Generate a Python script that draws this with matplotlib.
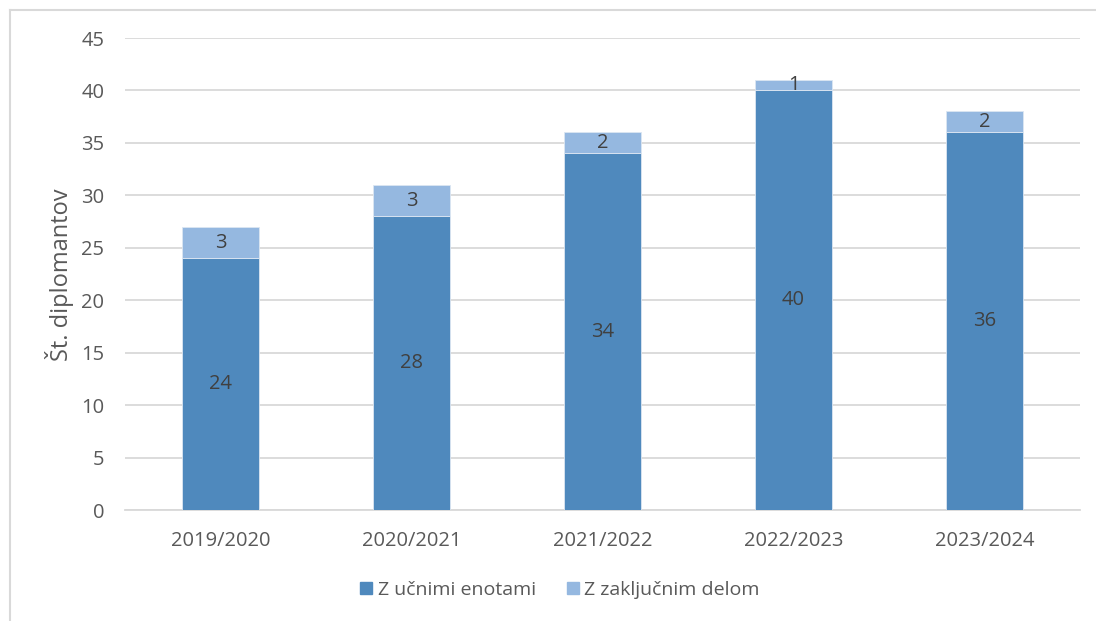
import numpy as np
import matplotlib
matplotlib.use("Agg")
import matplotlib.pyplot as plt
from matplotlib.lines import Line2D

# data
years = ["2019/2020", "2020/2021", "2021/2022", "2022/2023", "2023/2024"]
ucne_enote = [24, 28, 34, 40, 36]
zakljucni_del = [3, 3, 2, 1, 2]
series_names = ["Z učnimi enotami", "Z zaključnim delom"]

dark = "#4F89BD"
light = "#95B8E0"
text_col = "#595959"
label_col = "#404040"

plt.rcParams['font.family'] = ['Open Sans', 'DejaVu Sans']

fig = plt.figure(figsize=(10.96, 6.21), dpi=100)
ax = fig.add_axes([125 / 1096, 1 - 510 / 621, 955 / 1096, 472 / 621])

x = np.arange(len(years))
w = 0.40
b1 = ax.bar(x, ucne_enote, width=w, color=dark, edgecolor="#DCE6F2",
            linewidth=0.6, label=series_names[0], zorder=3)
b2 = ax.bar(x, zakljucni_del, width=w, bottom=ucne_enote, color=light,
            edgecolor="#DCE6F2", linewidth=0.6, label=series_names[1], zorder=3)

ax.bar_label(b1, labels=[str(v) for v in ucne_enote], label_type="center",
             color=label_col, fontsize=14.5)
ax.bar_label(b2, labels=[str(v) for v in zakljucni_del], label_type="center",
             color=label_col, fontsize=14.5)

ax.set_xlim(-0.5, len(years) - 0.5)
ax.set_ylim(0, 45)
ax.set_yticks(np.arange(0, 46, 5))
ax.set_xticks(x)
ax.set_xticklabels(years)
ax.tick_params(axis="both", length=0, colors=text_col, labelsize=14.5)
ax.tick_params(axis="y", pad=15)
ax.tick_params(axis="x", pad=15)
ax.grid(axis="y", color="#D9D9D9", linewidth=1.3, zorder=0)
for s in ["top", "right", "left"]:
    ax.spines[s].set_visible(False)
ax.spines["bottom"].set_color("#D9D9D9")
ax.spines["bottom"].set_linewidth(1.3)

fig.text(60 / 1096, 1 - 275 / 621, "Št. diplomantov", rotation=90,
         ha="center", va="center", color=text_col, fontsize=17)

handles = [plt.Rectangle((0, 0), 1, 1, color=dark),
           plt.Rectangle((0, 0), 1, 1, color=light)]
fig.legend(handles, series_names, loc="center", bbox_to_anchor=(560 / 1096, 1 - 590 / 621),
           ncol=2, frameon=False, fontsize=14, labelcolor=text_col,
           handlelength=0.6, handleheight=0.6, handletextpad=0.3, columnspacing=1.6)

# outer chart frame (top and left edges visible)
fig.add_artist(Line2D([10 / 1096, 10 / 1096], [0, 1 - 10 / 621], color="#D9D9D9", lw=1.5))
fig.add_artist(Line2D([10 / 1096, 1], [1 - 10 / 621, 1 - 10 / 621], color="#D9D9D9", lw=1.5))

fig.savefig("out.png", dpi=100)
